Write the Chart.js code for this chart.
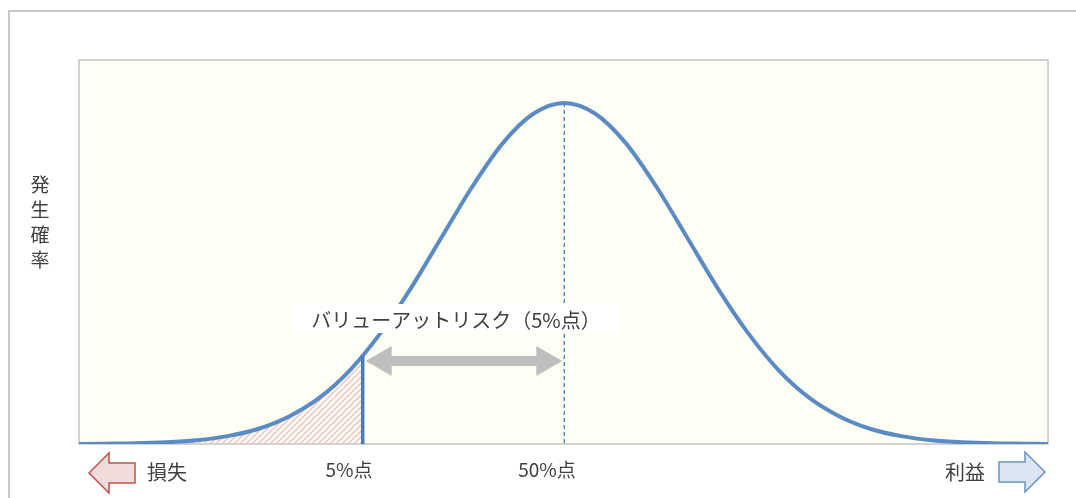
<!DOCTYPE html>
<html>
<head>
<meta charset="utf-8">
<script src="https://cdn.jsdelivr.net/npm/chart.js@4.4.0/dist/chart.umd.min.js"></script>
<style>
  html, body { margin: 0; padding: 0; background: #fff; }
  #wrap { width: 1076px; height: 498px; }
</style>
</head>
<body>
<div id="wrap"><canvas id="c" width="1076" height="498"></canvas></div>
<script>
// curve (x in sigma units, y relative to peak)
const xs = [-4, -3.75, -3.5, -3.25, -3, -2.75, -2.5, -2.25, -2, -1.75, -1.5, -1.25, -1, -0.75, -0.5, -0.25,
  0, 0.25, 0.5, 0.75, 1, 1.25, 1.5, 1.75, 2, 2.25, 2.5, 2.75, 3, 3.25, 3.5, 3.75, 4]
const ys = [0.000, 0.001, 0.002, 0.005, 0.011, 0.023, 0.044, 0.080, 0.135, 0.216, 0.325, 0.458, 0.607, 0.755, 0.883, 0.969,
  1.000, 0.969, 0.883, 0.755, 0.607, 0.458, 0.325, 0.216, 0.135, 0.080, 0.044, 0.023, 0.011, 0.005, 0.002, 0.001, 0.000]

// 5% point and 50% point
const varX = -1.645
const varY = 0.259
const meanX = 0
const meanY = 1.0

const yTitle = ['発', '生', '確', '率']
const varLabel = 'バリューアットリスク（5%点）'
const lossLabel = '損失'
const gainLabel = '利益'
const pctLabels = ['5%点', '50%点']

const FONT = '"Noto Sans CJK JP", "Noto Sans", sans-serif'
const TEXT = '#404040'
const BLUE = '#5b8bc4'

const curve = xs.map((x, i) => ({ x, y: ys[i] }))
const tail = curve.filter(p => p.x < varX).concat([{ x: varX, y: varY }])

function makeHatch() {
  const c = document.createElement('canvas')
  c.width = 6
  c.height = 6
  const g = c.getContext('2d')
  g.strokeStyle = '#f2c0c4'
  g.lineWidth = 1.4
  g.beginPath()
  g.moveTo(-1, 7); g.lineTo(7, -1)
  g.moveTo(-1, 1); g.lineTo(1, -1)
  g.moveTo(5, 7); g.lineTo(7, 5)
  g.stroke()
  return g.createPattern(c, 'repeat')
}

function blockArrow(ctx, x, y, w, h, dir, fill, stroke) {
  // x,y = top-left of box, dir = -1 left, 1 right
  const head = 20
  const s1 = y + h * 0.25, s2 = y + h * 0.75
  ctx.beginPath()
  if (dir < 0) {
    ctx.moveTo(x, y + h / 2)
    ctx.lineTo(x + head, y)
    ctx.lineTo(x + head, s1)
    ctx.lineTo(x + w, s1)
    ctx.lineTo(x + w, s2)
    ctx.lineTo(x + head, s2)
    ctx.lineTo(x + head, y + h)
  } else {
    ctx.moveTo(x + w, y + h / 2)
    ctx.lineTo(x + w - head, y)
    ctx.lineTo(x + w - head, s1)
    ctx.lineTo(x, s1)
    ctx.lineTo(x, s2)
    ctx.lineTo(x + w - head, s2)
    ctx.lineTo(x + w - head, y + h)
  }
  ctx.closePath()
  ctx.fillStyle = fill
  ctx.fill()
  ctx.strokeStyle = stroke
  ctx.lineWidth = 1.5
  ctx.stroke()
}

const decor = {
  id: 'decor',
  beforeDraw(chart) {
    const { ctx, chartArea: a } = chart
    ctx.save()
    // outer frame
    ctx.strokeStyle = '#c8c8c8'
    ctx.lineWidth = 2
    ctx.beginPath()
    ctx.moveTo(9, 498)
    ctx.lineTo(9, 11)
    ctx.lineTo(1076, 11)
    ctx.stroke()
    // plot area
    ctx.fillStyle = '#fefef4'
    ctx.fillRect(a.left, a.top, a.right - a.left, a.bottom - a.top)
    ctx.strokeStyle = '#c4c4c4'
    ctx.lineWidth = 1.5
    ctx.strokeRect(a.left, a.top, a.right - a.left, a.bottom - a.top)
    // dashed 50% line
    const xs_ = chart.scales.x, ys_ = chart.scales.y
    const mx = xs_.getPixelForValue(meanX)
    ctx.strokeStyle = '#4f86c6'
    ctx.lineWidth = 1.4
    ctx.setLineDash([4, 3])
    ctx.beginPath()
    ctx.moveTo(mx, ys_.getPixelForValue(meanY))
    ctx.lineTo(mx, ys_.getPixelForValue(0))
    ctx.stroke()
    ctx.restore()
  },
  afterDatasetsDraw(chart) {
    const { ctx } = chart
    const sx = chart.scales.x, sy = chart.scales.y
    const vx = sx.getPixelForValue(varX)
    const mx = sx.getPixelForValue(meanX)
    ctx.save()
    // 5% line
    ctx.strokeStyle = '#4a7cb8'
    ctx.lineWidth = 3.5
    ctx.beginPath()
    ctx.moveTo(vx, sy.getPixelForValue(0))
    ctx.lineTo(vx, sy.getPixelForValue(varY))
    ctx.stroke()

    // double arrow
    const ay = 361, l = vx + 3, r = mx - 2, hl = 26, hh = 15, sh = 5
    ctx.fillStyle = '#bfbfbf'
    ctx.beginPath()
    ctx.moveTo(l, ay)
    ctx.lineTo(l + hl, ay - hh)
    ctx.lineTo(l + hl, ay - sh)
    ctx.lineTo(r - hl, ay - sh)
    ctx.lineTo(r - hl, ay - hh)
    ctx.lineTo(r, ay)
    ctx.lineTo(r - hl, ay + hh)
    ctx.lineTo(r - hl, ay + sh)
    ctx.lineTo(l + hl, ay + sh)
    ctx.lineTo(l + hl, ay + hh)
    ctx.closePath()
    ctx.fill()

    // VaR label
    ctx.fillStyle = '#ffffff'
    ctx.fillRect(292, 304, 328, 29)
    ctx.fillStyle = TEXT
    ctx.font = '20px ' + FONT
    ctx.textAlign = 'center'
    ctx.textBaseline = 'middle'
    ctx.fillText(varLabel, 456, 320)

    // bottom labels
    ctx.font = '19px ' + FONT
    ctx.fillText(pctLabels[0], 349, 470)
    ctx.fillText(pctLabels[1], 547, 470)
    ctx.font = '20px ' + FONT
    ctx.fillText(lossLabel, 167, 472)
    ctx.fillText(gainLabel, 965, 472)

    // y title
    ctx.font = '19px ' + FONT
    yTitle.forEach((ch, i) => ctx.fillText(ch, 40, 185 + i * 25))

    // loss / gain arrows
    blockArrow(ctx, 89, 453, 46, 40, -1, '#f2dcdb', '#c0504d')
    blockArrow(ctx, 999, 452, 46, 40, 1, '#dce6f2', '#6a92c4')
    ctx.restore()
  }
}

new Chart(document.getElementById('c'), {
  type: 'line',
  data: {
    datasets: [{
      data: curve,
      borderColor: BLUE,
      borderWidth: 4,
      pointRadius: 0,
      cubicInterpolationMode: 'monotone',
      fill: false
    }, {
      data: tail,
      borderWidth: 0,
      borderColor: 'rgba(0,0,0,0)',
      backgroundColor: makeHatch(),
      pointRadius: 0,
      cubicInterpolationMode: 'monotone',
      fill: 'origin'
    }]
  },
  options: {
    responsive: false,
    animation: false,
    events: [],
    layout: { padding: { left: 79, top: 60, right: 28, bottom: 54 } },
    plugins: { legend: { display: false }, tooltip: { enabled: false } },
    scales: {
      x: { type: 'linear', display: false, min: -3.96, max: 3.947 },
      y: { display: false, min: 0, max: 1.126 }
    }
  },
  plugins: [decor]
})
</script>
</body>
</html>
